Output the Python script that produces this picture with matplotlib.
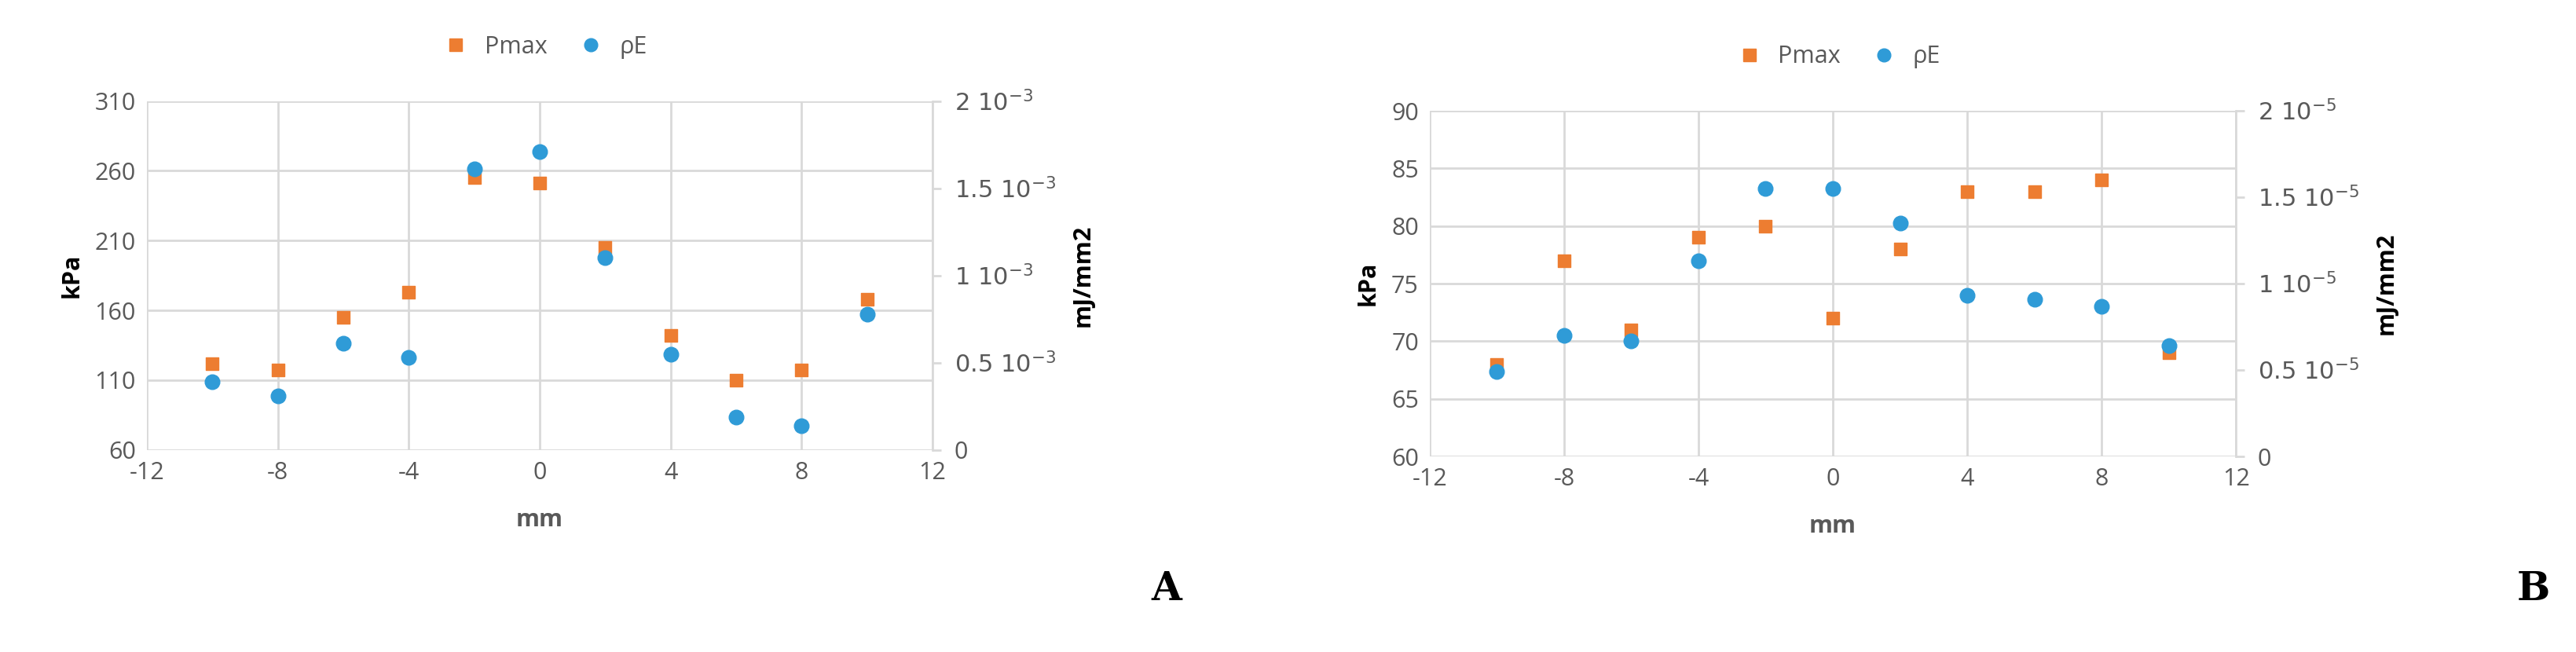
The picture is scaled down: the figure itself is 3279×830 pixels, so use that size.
import matplotlib
matplotlib.use('Agg')
import matplotlib.pyplot as plt
from matplotlib.lines import Line2D

x_mm = [-10, -8, -6, -4, -2, 0, 2, 4, 6, 8, 10]

# Panel A
pmax_a = [122, 117, 155, 173, 255, 251, 205, 142, 110, 117, 168]
pe_a = [0.39, 0.31, 0.61, 0.53, 1.61, 1.71, 1.10, 0.55, 0.19, 0.14, 0.78]  # x 1e-3

# Panel B
pmax_b = [68, 77, 71, 79, 80, 72, 78, 83, 83, 84, 69]
pe_b = [0.49, 0.70, 0.67, 1.13, 1.55, 1.55, 1.35, 0.93, 0.91, 0.87, 0.64]  # x 1e-5

x_ticks = [-12, -8, -4, 0, 4, 8, 12]
right_ticks = [0, 0.5, 1, 1.5, 2]

ORANGE = '#ED7D31'
BLUE = '#2F9BD7'
GRAY = '#595959'
plt.rcParams['font.family'] = ['Open Sans', 'DejaVu Sans']
plt.rcParams['axes.unicode_minus'] = False


def panel(rect, pmax, pe, ylim, ystep, exp, letter, letter_x):
    ax = fig.add_axes(rect)
    ax.set_xlim(-12, 12)
    ax.set_ylim(*ylim)
    ax.set_xticks(x_ticks)
    ax.set_yticks(range(ylim[0], ylim[1] + 1, ystep))
    ax.grid(True, color='#d9d9d9', lw=2)
    ax.set_axisbelow(True)
    for s in ax.spines.values():
        s.set_visible(False)
    ax.tick_params(length=0, labelsize=22, colors=GRAY, pad=10)
    ax.set_xlabel('mm', fontsize=22, fontweight='bold', color=GRAY, labelpad=22)
    ax.set_ylabel('kPa', fontsize=22, fontweight='bold', labelpad=10)
    ax.scatter(x_mm, pmax, marker='s', s=130, color=ORANGE, zorder=3)

    ax2 = ax.twinx()
    ax2.set_ylim(0, 2)
    ax2.set_yticks(right_ticks)
    ax2.set_yticklabels(['0'] + [r'$%s\ 10^{-%d}$' % (t, exp) for t in ['0.5', '1', '1.5', '2']])
    for s in ax2.spines.values():
        s.set_visible(False)
    ax2.spines['right'].set_visible(True)
    ax2.spines['right'].set_color('#d9d9d9')
    ax2.spines['right'].set_linewidth(2)
    ax2.tick_params(length=8, width=2, color='#d9d9d9', labelsize=22, labelcolor=GRAY, pad=12)
    ax2.set_ylabel('mJ/mm2', fontsize=22, fontweight='bold', labelpad=14)
    ax2.scatter(x_mm, pe, marker='o', s=180, color=BLUE, zorder=3)

    handles = [Line2D([], [], marker='s', ls='', color=ORANGE, markersize=11),
               Line2D([], [], marker='o', ls='', color=BLUE, markersize=12)]
    ax.legend(handles, ['Pmax', 'ρE'], loc='lower center', bbox_to_anchor=(0.5, 1.06),
              ncol=2, frameon=False, fontsize=22, labelcolor=GRAY,
              handletextpad=0.2, columnspacing=0.8)
    fig.text(letter_x, 0.08, letter, fontsize=36, fontweight='bold', family='DejaVu Serif')


fig = plt.figure(figsize=(32.79, 8.3), dpi=100)
panel([0.057, 0.31, 0.305, 0.535], pmax_a, pe_a, (60, 310), 50, 3, 'A', 0.447)
panel([0.555, 0.30, 0.313, 0.53], pmax_b, pe_b, (60, 90), 5, 5, 'B', 0.977)
fig.savefig('out.png', dpi=100)
